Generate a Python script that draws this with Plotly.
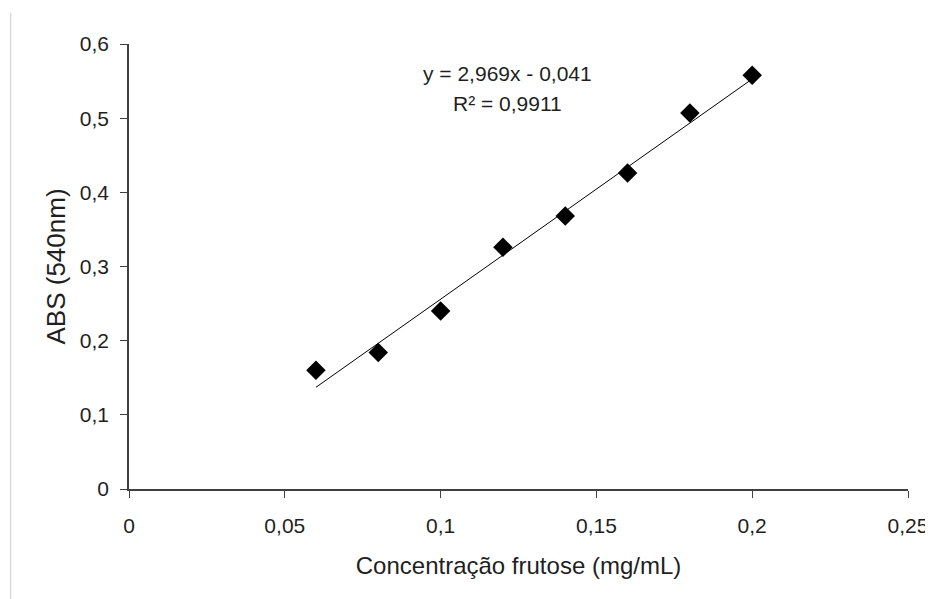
import plotly.graph_objects as go

conc = [0.06, 0.08, 0.10, 0.12, 0.14, 0.16, 0.18, 0.20]
abs540 = [0.160, 0.184, 0.240, 0.326, 0.368, 0.426, 0.507, 0.558]
slope = 2.969
intercept = -0.041
eq_text = "y = 2,969x - 0,041"
r2_text = "R² = 0,9911"
x_ticks = [0, 0.05, 0.10, 0.15, 0.20, 0.25]
x_tick_labels = ["0", "0,05", "0,1", "0,15", "0,2", "0,25"]
y_ticks = [0, 0.1, 0.2, 0.3, 0.4, 0.5, 0.6]
y_tick_labels = ["0", "0,1", "0,2", "0,3", "0,4", "0,5", "0,6"]

fit_x = [min(conc), max(conc)]
fit_y = [slope * v + intercept for v in fit_x]

FONT = "Liberation Sans, Arial, sans-serif"
TXT = "#1f1f1f"
AX = "#404040"

fig = go.Figure()
fig.add_trace(go.Scatter(x=fit_x, y=fit_y, mode="lines",
                         line=dict(color="#000000", width=1), showlegend=False))
fig.add_trace(go.Scatter(x=conc, y=abs540, mode="markers",
                         marker=dict(symbol="diamond", size=15, color="#000000"),
                         showlegend=False))

for txt, shift in [(eq_text, -29), (r2_text, -59)]:
    fig.add_annotation(x=0.486, xref="paper", y=0.6, yref="y", yanchor="middle", yshift=shift,
                       text=txt, showarrow=False,
                       font=dict(family=FONT, size=21, color=TXT), align="center")

fig.add_shape(type="line", xref="paper", yref="paper",
              x0=-0.152, x1=-0.152, y0=-0.25, y1=1.07,
              line=dict(color="#d9d9d9", width=1.5))

fig.update_layout(
    width=925, height=591,
    margin=dict(l=121, r=25, t=36, b=110),
    paper_bgcolor="white", plot_bgcolor="white",
    font=dict(family=FONT, color=TXT, size=21),
    xaxis=dict(range=[0, 0.25], tickvals=x_ticks, ticktext=x_tick_labels,
               showgrid=False, zeroline=False, showline=True, linecolor=AX,
               linewidth=1.5, ticks="outside", ticklen=7, tickcolor=AX,
               tickfont=dict(size=21), ticklabelstandoff=10, automargin=False,
               title=dict(text="Concentração frutose (mg/mL)", font=dict(size=24), standoff=21)),
    yaxis=dict(range=[0, 0.6], tickvals=y_ticks, ticktext=y_tick_labels,
               showgrid=False, zeroline=False, showline=True, linecolor=AX,
               linewidth=1.5, ticks="outside", ticklen=7, tickcolor=AX,
               tickfont=dict(size=21), ticklabelstandoff=7, automargin=False,
               title=dict(text="ABS (540nm)", font=dict(size=26), standoff=7)),
)

fig.write_html("out.html")
